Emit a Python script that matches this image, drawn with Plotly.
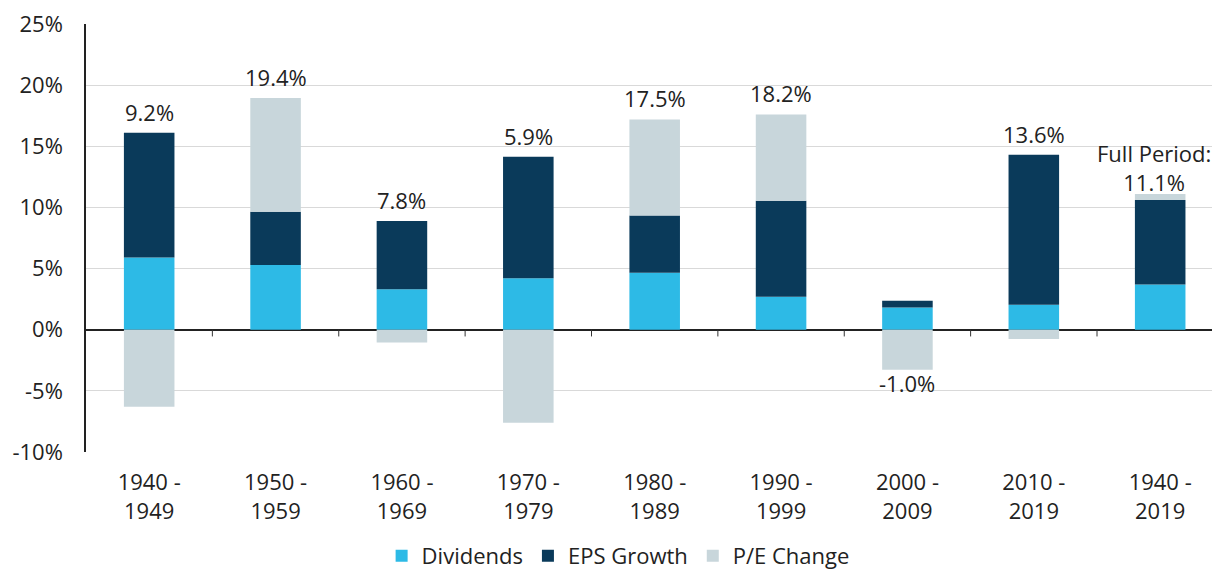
import plotly.graph_objects as go

categories = ["1940 -<br>1949", "1950 -<br>1959", "1960 -<br>1969", "1970 -<br>1979",
              "1980 -<br>1989", "1990 -<br>1999", "2000 -<br>2009", "2010 -<br>2019",
              "1940 -<br>2019"]
dividends = [5.9, 5.3, 3.3, 4.2, 4.65, 2.7, 1.82, 2.05, 3.7]
eps_growth = [10.2, 4.35, 5.6, 9.95, 4.7, 7.85, 0.55, 12.25, 6.9]
pe_change = [-6.3, 9.3, -1.05, -7.6, 7.85, 7.05, -3.27, -0.75, 0.5]
total_labels = ["9.2%", "19.4%", "7.8%", "5.9%", "17.5%", "18.2%", "-1.0%", "13.6%",
                "Full Period:<br>11.1%"]
label_below = [False, False, False, False, False, False, True, False, False]
y_ticks = [-10, -5, 0, 5, 10, 15, 20, 25]
y_ticktext = ["-10%", "-5%", "0%", "5%", "10%", "15%", "20%", "25%"]

FONT = "Open Sans"
C_DIV = "#2DBAE6"
C_EPS = "#0A3A5A"
C_PE = "#C8D6DB"
TXT = "#222222"

x = list(range(len(categories)))
fig = go.Figure()
for name, vals, col in [("Dividends", dividends, C_DIV),
                        ("EPS Growth", eps_growth, C_EPS),
                        ("P/E Change", pe_change, C_PE)]:
    fig.add_trace(go.Bar(x=x, y=vals, name=name, marker_color=col,
                         marker_line_width=0, width=0.4))

for i in x:
    vals = [dividends[i], eps_growth[i], pe_change[i]]
    pos = sum(v for v in vals if v > 0)
    neg = sum(v for v in vals if v < 0)
    multi = "<br>" in total_labels[i]
    if label_below[i]:
        fig.add_annotation(x=i, y=neg, text=total_labels[i], showarrow=False,
                           yanchor="top", yshift=4, font=dict(size=22, color=TXT))
    else:
        fig.add_annotation(x=i, y=pos, text=total_labels[i], showarrow=False,
                           yanchor="bottom", yshift=(-5 if multi else 4),
                           xshift=(-6 if multi else 0),
                           font=dict(size=22, color=TXT))

# small tick marks at category boundaries on the zero line
for i in x[:-1]:
    fig.add_shape(type="line", x0=i + 0.5, x1=i + 0.5, y0=0, y1=-0.55,
                  line=dict(color="#333", width=1))

fig.update_layout(
    width=1212, height=573,
    margin=dict(l=86, r=0, t=24, b=121, autoexpand=False),
    paper_bgcolor="white", plot_bgcolor="white",
    barmode="relative",
    font=dict(family=FONT, size=22, color=TXT),
    showlegend=True,
    legend=dict(orientation="h", xref="container", yref="paper",
                x=0.51, xanchor="center", y=-0.243, yanchor="middle",
                font=dict(size=22), itemwidth=30, traceorder="normal"),
)
fig.update_xaxes(range=[-0.5, 8.41], tickvals=x, ticktext=categories,
                 showgrid=False, zeroline=False, showline=False, ticks="",
                 ticklabelstandoff=15)
fig.update_yaxes(range=[-10, 25], tickvals=y_ticks, ticktext=y_ticktext,
                 showgrid=True, gridcolor="#D9D9D9", gridwidth=1,
                 zeroline=True, zerolinecolor="#222", zerolinewidth=1.5,
                 showline=True, linecolor="#222", linewidth=1.5,
                 ticks="", ticklabelstandoff=17)

fig.write_html("out.html", config={"displayModeBar": False},
               post_script="document.body.style.margin='0';")
